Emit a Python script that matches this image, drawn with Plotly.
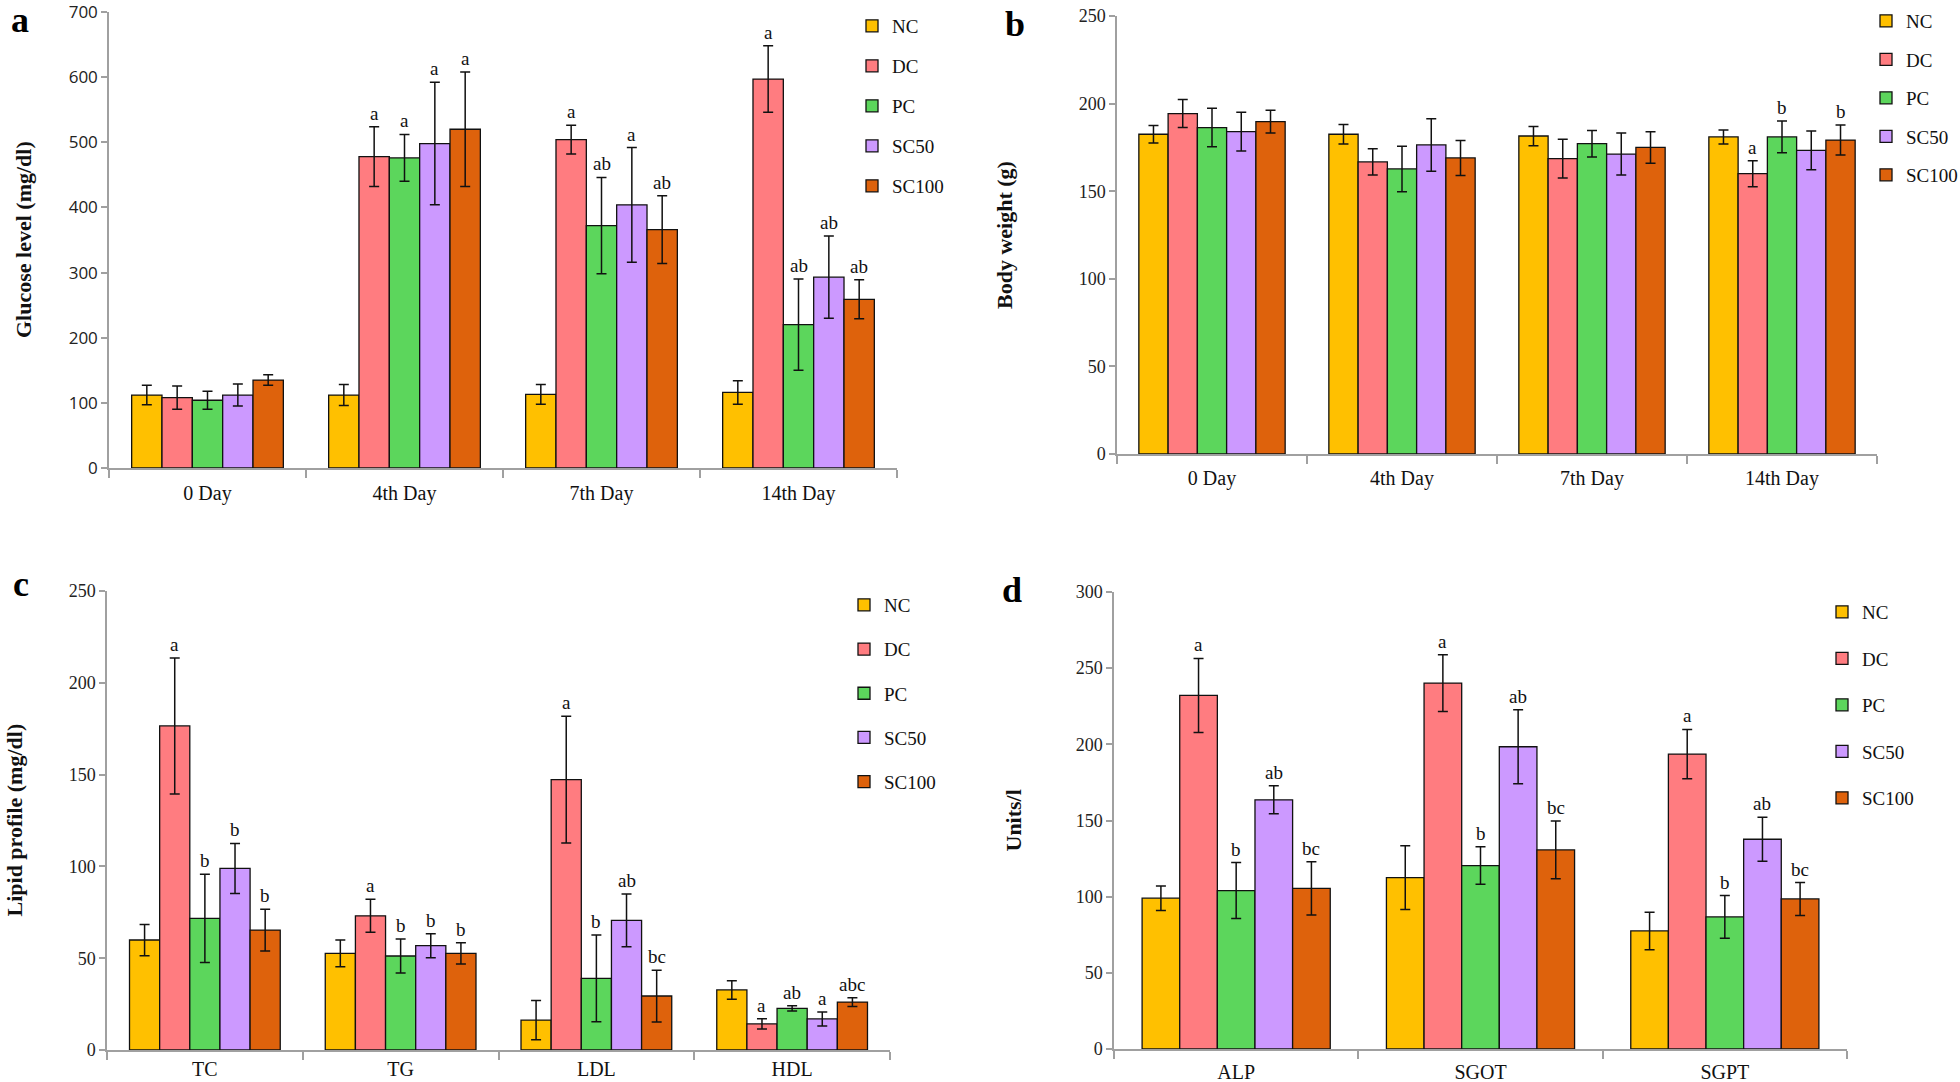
import plotly.graph_objects as go

groups = ["NC", "DC", "PC", "SC50", "SC100"]
colors = ["#FFC000", "#FF7C80", "#5CD65C", "#CC99FF", "#DE620C"]

days = ["0 Day", "4th Day", "7th Day", "14th Day"]
glucose_mean = [[112, 112, 113, 116], [108, 478, 504, 597], [104, 476, 372, 220],
                [112, 498, 404, 293], [135, 520, 366, 259]]
glucose_err = [[15, 16, 15, 18], [18, 46, 22, 51], [14, 36, 74, 70],
               [17, 94, 88, 63], [8, 88, 52, 30]]
glucose_sig = [["", "", "", ""], ["", "a", "a", "a"], ["", "a", "ab", "ab"],
               ["", "a", "a", "ab"], ["", "a", "ab", "ab"]]

weight_mean = [[182.5, 182.5, 181.5, 181], [194.3, 166.7, 168.6, 160], [186.3, 162.7, 177.1, 181],
               [184, 176.4, 171.2, 173.3], [189.7, 169, 175, 179.2]]
weight_err = [[5, 5.5, 5.5, 4], [8, 7.5, 11, 7.4], [11, 13, 7.6, 9],
              [11, 15, 12, 11], [6.5, 10, 9, 8.6]]
weight_sig = [["", "", "", ""], ["", "", "", "a"], ["", "", "", "b"],
              ["", "", "", ""], ["", "", "", "b"]]

lipid_cats = ["TC", "TG", "LDL", "HDL"]
lipid_mean = [[59.9, 52.6, 16.3, 32.7], [176.5, 73.1, 147.3, 14.2], [71.7, 51.2, 39, 22.7],
              [98.9, 56.8, 70.6, 16.9], [65.3, 52.6, 29.4, 26.1]]
lipid_err = [[8.5, 7.3, 10.7, 5], [37, 9, 34.5, 2.8], [24, 9.2, 23.6, 1.4],
             [13.6, 6.5, 14.3, 3.8], [11.4, 5.8, 14.1, 2.4]]
lipid_sig = [["", "", "", ""], ["a", "a", "a", "a"], ["b", "b", "b", "ab"],
             ["b", "b", "ab", "a"], ["b", "b", "bc", "abc"]]

enzyme_cats = ["ALP", "SGOT", "SGPT"]
enzyme_mean = [[99, 112.5, 77.5], [232.1, 240.2, 193.6], [104, 120.4, 86.7],
               [163.6, 198.4, 137.7], [105.5, 130.7, 98.5]]
enzyme_err = [[8, 21, 12.3], [24.3, 18.6, 16.2], [18.4, 12.3, 14],
              [9.2, 24.3, 14.5], [17.5, 19, 10.8]]
enzyme_sig = [["", "", ""], ["a", "a", "a"], ["b", "b", "b"],
              ["ab", "ab", "ab"], ["bc", "bc", "bc"]]

W, H = 1960, 1082
SERIF = "Liberation Serif, Times New Roman, serif"
SANS = "Open Sans, Liberation Sans, sans-serif"
BARGAP = 0.23

panels = [
    dict(key="a", cats=days, mean=glucose_mean, err=glucose_err, sig=glucose_sig,
         xd=(109, 897), yd=(12, 468), yr=700, dt=100, tickfont=SANS, ticksize=17,
         xstand=6, title="Glucose level (mg/dl)", tx=23,
         legend=dict(x=852, y=7, gap=12.3), letter=(20, 20)),
    dict(key="b", cats=days, mean=weight_mean, err=weight_err, sig=weight_sig,
         xd=(1117, 1877), yd=(16, 454), yr=250, dt=50, tickfont=SERIF, ticksize=18,
         xstand=5, title="Body weight (g)", tx=1005,
         legend=dict(x=1866, y=2, gap=10.8), letter=(1015, 24)),
    dict(key="c", cats=lipid_cats, mean=lipid_mean, err=lipid_err, sig=lipid_sig,
         xd=(107, 890), yd=(591, 1050), yr=250, dt=50, tickfont=SERIF, ticksize=18,
         xstand=0, title="Lipid profile (mg/dl)", tx=14,
         legend=dict(x=844, y=586, gap=16.5), letter=(21, 584)),
    dict(key="d", cats=enzyme_cats, mean=enzyme_mean, err=enzyme_err, sig=enzyme_sig,
         xd=(1114, 1847), yd=(592, 1049), yr=300, dt=50, tickfont=SERIF, ticksize=18,
         xstand=4, title="Units/l", tx=1013,
         legend=dict(x=1822, y=593, gap=18.8), letter=(1012, 590)),
]

fig = go.Figure()
annotations = []
layout = {}

for pi, p in enumerate(panels):
    sfx = "" if pi == 0 else str(pi + 1)
    xa, ya = "x" + sfx, "y" + sfx
    lg = "legend" + sfx
    for gi, g in enumerate(groups):
        fig.add_trace(go.Bar(
            x=p["cats"], y=p["mean"][gi], name=g,
            marker=dict(color=colors[gi], line=dict(color="#111111", width=1.3)),
            error_y=dict(type="data", array=p["err"][gi], visible=True,
                         color="#111111", thickness=1.5, width=5),
            xaxis=xa, yaxis=ya, legend=lg, legendgroup=p["key"] + g,
            showlegend=True,
        ))
    x0, x1 = p["xd"]
    y0, y1 = p["yd"]
    cat_px = (x1 - x0) / len(p["cats"])
    bar_px = cat_px * (1 - BARGAP) / len(groups)
    layout["xaxis" + sfx] = dict(
        domain=[x0 / W, x1 / W], anchor=ya, type="category",
        showline=True, linecolor="#A0A0A0", linewidth=1.5,
        ticks="outside", tickson="boundaries", ticklen=8, tickcolor="#A0A0A0",
        tickwidth=1.5, showgrid=False, zeroline=False, ticklabeloverflow="allow",
        ticklabelstandoff=p["xstand"],
        tickfont=dict(family=SERIF, size=20, color="#111111"),
    )
    layout["yaxis" + sfx] = dict(
        domain=[1 - y1 / H, 1 - y0 / H], anchor=xa, range=[0, p["yr"]], dtick=p["dt"],
        showline=True, linecolor="#A0A0A0", linewidth=1.5,
        ticks="outside", ticklen=6, tickcolor="#A0A0A0", tickwidth=1.5,
        showgrid=False, zeroline=False, ticklabeloverflow="allow",
        tickfont=dict(family=p["tickfont"], size=p["ticksize"], color="#222222"),
    )
    L = p["legend"]
    layout[lg] = dict(
        x=L["x"] / W, y=1 - L["y"] / H, xanchor="left", yanchor="top",
        tracegroupgap=L["gap"], bgcolor="rgba(0,0,0,0)",
        font=dict(family=SERIF, size=19, color="#111111"),
        itemwidth=30,
    )
    # significance letters above error bars
    for gi in range(len(groups)):
        for ci, c in enumerate(p["cats"]):
            s = p["sig"][gi][ci]
            if not s:
                continue
            annotations.append(dict(
                x=c, y=p["mean"][gi][ci] + p["err"][gi][ci], xref=xa, yref=ya,
                text=s, showarrow=False, yanchor="bottom", yshift=1,
                xshift=(gi - (len(groups) - 1) / 2) * bar_px,
                font=dict(family=SERIF, size=19, color="#111111"),
            ))
    # y-axis title
    annotations.append(dict(
        x=p["tx"] / W, y=1 - (y0 + y1) / 2 / H, xref="paper", yref="paper",
        text="<b>" + p["title"] + "</b>", textangle=-90, showarrow=False,
        xanchor="center", yanchor="middle",
        font=dict(family=SERIF, size=22, color="#111111"),
    ))
    # panel letter
    lx, ly = p["letter"]
    annotations.append(dict(
        x=lx / W, y=1 - ly / H, xref="paper", yref="paper",
        text="<b>" + p["key"] + "</b>", showarrow=False,
        xanchor="center", yanchor="middle",
        font=dict(family=SERIF, size=36, color="#000000"),
    ))

fig.update_layout(
    width=W, height=H, autosize=False,
    margin=dict(l=0, r=0, t=0, b=0, pad=0, autoexpand=False),
    paper_bgcolor="white", plot_bgcolor="white",
    barmode="group", bargap=BARGAP, bargroupgap=0,
    annotations=annotations,
    **layout,
)

fig.write_html(
    "out.html",
    config={"displayModeBar": False},
    post_script="document.body.style.margin='0px';document.body.style.overflow='hidden';",
)
